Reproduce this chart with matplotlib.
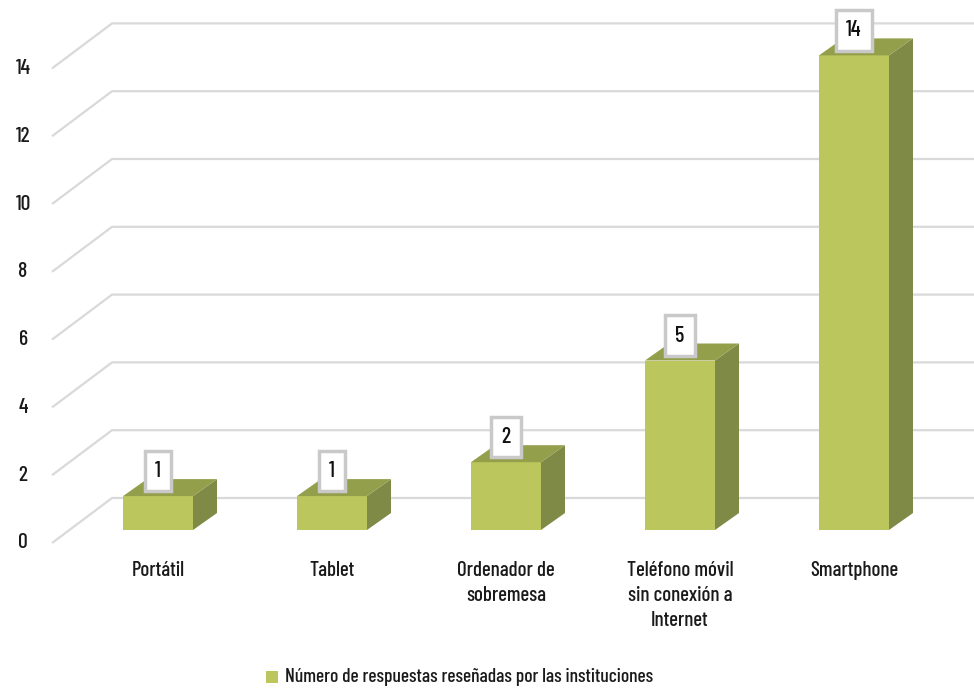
import matplotlib
matplotlib.use("Agg")
import matplotlib.pyplot as plt
from matplotlib.patches import Polygon, Rectangle
from matplotlib import font_manager

categories = ["Portátil", "Tablet", "Ordenador de\nsobremesa",
              "Teléfono móvil\nsin conexión a\nInternet", "Smartphone"]
values = [1, 1, 2, 5, 14]
yticks = [0, 2, 4, 6, 8, 10, 12, 14]
series_name = "Número de respuestas reseñadas por las instituciones"

names = {f.name for f in font_manager.fontManager.ttflist}
fam = "DejaVu Sans"
for cand in ["Barlow Condensed", "Roboto Condensed", "Archivo Narrow",
             "Encode Sans Condensed", "PT Sans Narrow", "IBM Plex Sans Condensed",
             "Open Sans Condensed", "Liberation Sans Narrow"]:
    if cand in names:
        fam = cand
        break
plt.rcParams["font.family"] = [fam, "DejaVu Sans"]
plt.rcParams["font.weight"] = 500

W, H = 974, 688
fig = plt.figure(figsize=(W / 100, H / 100), dpi=100)
ax = fig.add_axes([0, 0, 1, 1])
ax.axis("off")

# pixel mapping: category i front-face centre at 158 + 174*i; value v at 530 - 33.9*v
PXC, PXS = 174.0, 33.9
x0px, y0px = 158.0, 530.0
ax.set_xlim(-x0px / PXC, (W - x0px) / PXC)
ax.set_ylim((y0px - H) / PXS, y0px / PXS)

front_dx, front_dy = -17.4 / PXC, -13 / PXS
back_dx, back_dy = 42.6 / PXC, 32 / PXS
xmax = ax.get_xlim()[1]

txt_col = "#1a1a1a"
grid_col = "#D9D9D9"
for t in yticks:
    xf, yf = -0.609, t + front_dy
    xb, yb = xf + (back_dx - front_dx), t + back_dy
    ax.plot([xf, xb, xmax], [yf, yb, yb], color=grid_col, lw=1.6, zorder=1,
            solid_capstyle="butt")
    ax.text(xf - 29 / PXC, yf, str(t), ha="center", va="center", fontsize=15.5,
            color=txt_col)

front_c = "#BBC65C"
side_c = "#7E8A45"
top_c = "#949F4B"
w = 70 / PXC
ddx, ddy = 24 / PXC, 17 / PXS
xs = list(range(len(values)))
ax.bar(xs, values, width=w, color=front_c, zorder=3, linewidth=0)
for x, v in zip(xs, values):
    r = x + w / 2
    l = x - w / 2
    ax.add_patch(Polygon([(r, 0), (r + ddx, ddy), (r + ddx, v + ddy), (r, v)],
                         closed=True, fc=side_c, ec="none", zorder=3))
    ax.add_patch(Polygon([(l, v), (r, v), (r + ddx, v + ddy), (l + ddx, v + ddy)],
                         closed=True, fc=top_c, ec="none", zorder=3))
    ax.text(x, v + 25 / PXS, str(v), ha="center", va="center", fontsize=16,
            color="#111111", zorder=5,
            bbox=dict(boxstyle="square,pad=0.46", fc="white", ec="#C9C9C9", lw=2.5))

for x, c in zip(xs, categories):
    ax.text(x, (y0px - 561) / PXS, c, ha="center", va="top", fontsize=15,
            color=txt_col, linespacing=1.4)

# legend
ly = (y0px - 677) / PXS
ax.add_patch(Rectangle(((266 - x0px) / PXC, (y0px - 683) / PXS), 12 / PXC, 12 / PXS,
                       fc=front_c, ec="none"))
ax.text((285 - x0px) / PXC, ly, series_name, ha="left", va="center", fontsize=14.0,
        color=txt_col)

fig.savefig("out.png", dpi=100)
